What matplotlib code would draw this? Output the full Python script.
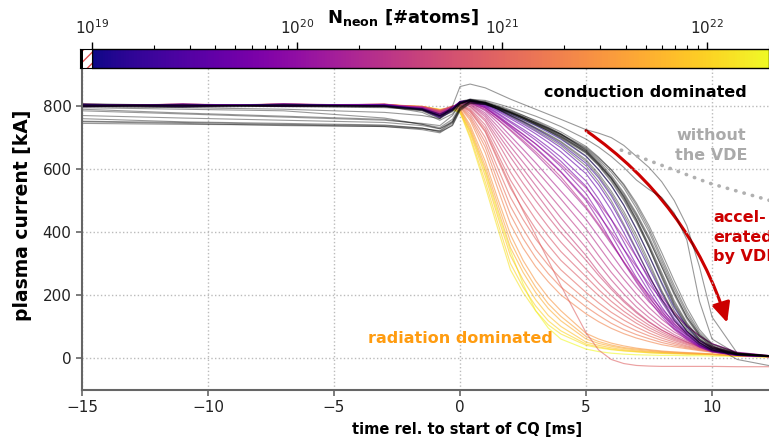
import numpy as np
import matplotlib as mpl
import matplotlib.pyplot as plt
from matplotlib.colors import LogNorm
from matplotlib.patches import FancyArrowPatch, Rectangle

# common time base of the traces [ms]
t_ms = [-15, -11, -7, -3, -1.5, -0.8, -0.3, 0, 0.4, 1, 1.5, 2, 2.5, 3, 3.5, 4,
        5, 5.5, 6, 6.5, 7, 7.5, 8, 8.5, 9, 9.5, 10, 11, 12.3]

# shots without neon -> black
ip_no_neon = [
    [800, 805, 800, 798, 790, 770, 790, 815, 822, 812, 796, 778, 761, 742, 722, 700, 650, 610, 560, 500, 430, 350, 255, 165, 100, 55, 30, 12, 6],
    [805, 800, 803, 800, 785, 760, 785, 810, 818, 808, 791, 772, 753, 732, 711, 688, 630, 585, 530, 465, 390, 305, 215, 140, 85, 48, 25, 10, 5],
    [790, 778, 768, 758, 742, 732, 758, 800, 815, 810, 797, 782, 766, 748, 730, 710, 662, 625, 580, 525, 460, 385, 300, 210, 130, 70, 35, 14, 6],
    [760, 750, 745, 740, 730, 720, 745, 790, 812, 805, 791, 775, 758, 740, 722, 702, 652, 612, 565, 505, 435, 350, 260, 170, 105, 58, 30, 11, 5],
    [750, 745, 738, 735, 725, 715, 740, 788, 810, 806, 793, 778, 762, 745, 728, 710, 665, 630, 590, 540, 475, 400, 310, 220, 140, 75, 38, 15, 7],
    [745, 742, 740, 735, 728, 722, 750, 795, 815, 810, 796, 780, 762, 742, 721, 698, 642, 598, 548, 485, 410, 325, 235, 150, 92, 50, 27, 11, 5],
    [800, 798, 802, 800, 780, 755, 775, 805, 820, 815, 802, 788, 771, 752, 733, 712, 660, 618, 572, 512, 440, 355, 265, 175, 108, 60, 32, 12, 6],
    [808, 802, 800, 802, 792, 775, 792, 812, 820, 810, 790, 768, 747, 724, 700, 675, 610, 560, 500, 425, 345, 262, 185, 120, 75, 42, 22, 9, 4],
    [795, 790, 785, 762, 742, 728, 748, 792, 815, 812, 799, 785, 770, 755, 737, 718, 672, 638, 598, 548, 485, 410, 320, 230, 148, 82, 42, 15, 7],
    [800, 795, 790, 780, 770, 760, 800, 862, 870, 858, 840, 822, 806, 790, 774, 758, 725, 714, 700, 675, 640, 605, 560, 500, 420, 290, 130, 15, 5],
    [785, 775, 765, 755, 745, 738, 770, 808, 822, 818, 807, 795, 782, 768, 752, 735, 695, 670, 640, 605, 565, 535, 510, 460, 375, 180, 60, 12, 6],
    [800, 802, 798, 795, 788, 770, 788, 808, 818, 812, 797, 780, 763, 745, 726, 705, 655, 615, 570, 515, 450, 375, 290, 205, 130, 75, 40, -5, -25],
    [752, 748, 742, 738, 730, 718, 738, 785, 808, 805, 793, 780, 765, 748, 731, 712, 668, 635, 598, 552, 492, 420, 335, 245, 160, 90, 45, 16, 7],
    [798, 796, 800, 797, 786, 765, 782, 806, 816, 808, 790, 770, 751, 730, 708, 685, 625, 578, 522, 455, 378, 295, 210, 138, 86, 48, 25, 10, 5],
    [770, 762, 755, 748, 738, 728, 752, 795, 814, 809, 795, 779, 762, 744, 725, 704, 655, 616, 570, 510, 440, 360, 272, 182, 112, 62, 33, 12, 6],
    [802, 800, 805, 801, 789, 768, 786, 809, 819, 812, 798, 783, 766, 748, 729, 708, 658, 620, 575, 520, 455, 378, 290, 200, 124, 68, 35, 13, 6],
]

# neon seeded shots
n_neon = [1.3e19, 2e19, 3e19, 4e19, 5e19, 6e19, 8e19, 1e20,
          1.3e20, 1.6e20, 2e20, 2.5e20, 3e20, 3.5e20, 4e20, 1.8e20, 2.8e20,
          5e20, 6e20, 7e20, 8e20, 1e21, 1.3e21, 1.6e21, 2e21, 9e20,
          3e21, 4e21, 5e21, 7e21, 1e22, 1.4e22, 2e22]
ip_neon = [
    [805, 800, 806, 800, 790, 768, 790, 812, 820, 810, 793, 775, 757, 738, 717, 695, 640, 598, 548, 485, 408, 325, 240, 160, 98, 55, 30, 12, 6],
    [800, 806, 800, 803, 788, 762, 786, 810, 818, 807, 789, 770, 750, 728, 705, 680, 618, 572, 515, 445, 365, 285, 205, 135, 85, 48, 26, 10, 5],
    [803, 798, 804, 800, 792, 770, 792, 813, 819, 806, 786, 765, 743, 720, 695, 668, 600, 550, 490, 418, 340, 262, 188, 125, 80, 45, 24, 10, 5],
    [798, 803, 800, 805, 790, 765, 788, 811, 817, 804, 783, 760, 737, 712, 685, 655, 585, 532, 470, 398, 322, 248, 178, 118, 75, 42, 23, 9, 5],
    [806, 800, 803, 799, 791, 772, 793, 814, 818, 802, 778, 752, 727, 700, 670, 638, 562, 505, 440, 368, 295, 225, 162, 108, 70, 40, 22, 9, 4],
    [800, 805, 801, 804, 789, 766, 789, 812, 816, 800, 775, 748, 721, 692, 660, 625, 545, 485, 418, 345, 275, 210, 150, 100, 65, 38, 21, 8, 4],
    [804, 799, 806, 801, 793, 774, 794, 815, 818, 798, 770, 740, 711, 680, 645, 608, 522, 460, 392, 322, 255, 195, 140, 95, 62, 36, 20, 8, 4],
    [801, 806, 800, 802, 790, 770, 791, 813, 815, 795, 764, 732, 699, 665, 628, 590, 500, 438, 370, 302, 240, 183, 132, 90, 58, 34, 19, 8, 4],
    [805, 800, 806, 802, 795, 775, 795, 812, 814, 795, 766, 735, 702, 668, 631, 592, 505, 455, 400, 345, 290, 235, 185, 140, 100, 70, 45, 18, 7],
    [800, 806, 802, 805, 793, 772, 793, 810, 812, 790, 757, 722, 686, 648, 607, 565, 475, 420, 362, 305, 250, 200, 155, 115, 82, 56, 36, 14, 6],
    [806, 801, 804, 800, 795, 778, 796, 812, 811, 785, 747, 705, 663, 620, 575, 530, 440, 385, 330, 275, 225, 178, 138, 102, 73, 50, 33, 13, 6],
    [802, 805, 800, 804, 792, 774, 794, 810, 808, 778, 735, 690, 645, 598, 552, 505, 410, 355, 300, 250, 203, 160, 123, 92, 66, 46, 30, 12, 5],
    [804, 800, 807, 802, 796, 780, 797, 811, 806, 772, 723, 672, 622, 572, 523, 475, 380, 325, 272, 225, 180, 142, 110, 82, 60, 42, 28, 11, 5],
    [800, 804, 801, 806, 794, 776, 795, 809, 804, 766, 711, 655, 601, 548, 496, 445, 350, 298, 248, 203, 162, 128, 98, 74, 55, 39, 26, 10, 5],
    [803, 800, 805, 800, 796, 782, 798, 810, 800, 758, 698, 638, 581, 525, 471, 418, 325, 272, 225, 183, 147, 115, 89, 68, 50, 36, 24, 10, 4],
    [801, 805, 803, 806, 794, 773, 793, 811, 813, 794, 767, 738, 710, 680, 648, 615, 540, 492, 440, 382, 320, 255, 195, 145, 103, 70, 45, 17, 7],
    [805, 801, 806, 803, 797, 779, 796, 812, 810, 788, 758, 725, 691, 655, 616, 575, 480, 425, 368, 305, 245, 190, 145, 108, 78, 54, 35, 13, 6],
    [804, 800, 806, 802, 797, 783, 798, 808, 798, 752, 684, 615, 555, 500, 448, 398, 310, 262, 218, 178, 143, 113, 88, 68, 51, 37, 26, 11, 5],
    [800, 805, 801, 804, 795, 780, 796, 806, 792, 740, 665, 590, 528, 470, 417, 368, 282, 238, 198, 162, 131, 104, 82, 63, 48, 35, 25, 10, 5],
    [806, 801, 805, 800, 798, 785, 799, 805, 788, 730, 647, 565, 500, 440, 387, 338, 258, 217, 180, 148, 120, 96, 76, 59, 45, 33, 23, 10, 4],
    [802, 806, 800, 805, 796, 782, 797, 803, 782, 718, 628, 540, 472, 410, 358, 310, 235, 198, 164, 136, 110, 88, 70, 55, 42, 31, 22, 9, 4],
    [805, 801, 806, 801, 799, 786, 800, 802, 775, 700, 603, 510, 440, 378, 326, 280, 208, 175, 145, 120, 98, 79, 63, 50, 38, 29, 21, 9, 4],
    [800, 806, 802, 805, 797, 784, 798, 800, 768, 685, 582, 482, 410, 345, 295, 252, 185, 155, 128, 105, 86, 70, 56, 45, 35, 27, 20, 9, 4],
    [804, 800, 805, 801, 799, 787, 800, 798, 762, 670, 560, 455, 380, 318, 268, 225, 162, 135, 110, 90, 74, 61, 49, 40, 32, 25, 19, 8, 4],
    [801, 805, 800, 806, 797, 785, 798, 796, 755, 652, 537, 425, 350, 290, 242, 200, 140, 115, 94, 77, 63, 52, 42, 35, 29, 23, 18, 8, 4],
    [803, 800, 805, 802, 798, 784, 799, 804, 785, 722, 635, 548, 467, 390, 310, 230, 80, 25, -5, -18, -24, -26, -27, -27, -27, -27, -27, -28, -28],
    [800, 805, 801, 806, 798, 786, 795, 792, 740, 625, 505, 392, 310, 245, 192, 150, 78, 60, 47, 38, 31, 26, 22, 19, 17, 15, 13, 8, 4],
    [805, 800, 806, 801, 799, 788, 796, 790, 732, 610, 488, 370, 290, 225, 172, 132, 68, 52, 41, 33, 28, 24, 20, 18, 16, 14, 12, 7, 4],
    [801, 806, 800, 804, 797, 785, 793, 788, 725, 598, 472, 350, 272, 208, 157, 118, 60, 46, 37, 30, 25, 21, 18, 16, 14, 13, 11, 7, 4],
    [804, 800, 805, 802, 798, 789, 794, 785, 715, 578, 448, 325, 248, 185, 135, 100, 50, 40, 32, 26, 22, 19, 17, 15, 13, 12, 11, 6, 3],
    [800, 804, 801, 805, 796, 786, 790, 782, 705, 560, 428, 300, 225, 165, 118, 86, 44, 35, 28, 23, 20, 17, 15, 14, 13, 12, 10, 6, 3],
    [803, 801, 806, 800, 799, 790, 792, 780, 698, 545, 410, 280, 208, 150, 105, 76, 40, 32, 26, 22, 19, 16, 14, 13, 12, 11, 10, 6, 3],
    [805, 800, 804, 802, 798, 788, 788, 778, 720, 590, 460, 340, 235, 150, 95, 60, 28, 20, 15, 12, 10, 9, 8, 8, 7, 7, 6, 5, 3],
]

# expected decay without the VDE (dotted guide)
vde_free_t = [6.4, 8.2, 9.9, 12.3]
vde_free_i = [660, 606, 555, 500]

fig = plt.figure(figsize=(7.69, 4.44), dpi=100)
ax = fig.add_axes([82/769, 1-390/444, 687/769, 322/444])

cmap = plt.get_cmap('plasma')
norm = LogNorm(1e19, 2e22)

for n, ip in sorted(zip(n_neon, ip_neon), key=lambda p: -p[0]):
    ax.plot(t_ms, ip, color=cmap(norm(n)), lw=0.85, alpha=0.6)
for ip in ip_no_neon:
    ax.plot(t_ms, ip, color='k', lw=0.8, alpha=0.4)

ax.plot(vde_free_t, vde_free_i, color='#b0b0b0', lw=2.6,
        ls=(0, (0.1, 2.3)), dash_capstyle='round')

arrow = FancyArrowPatch((5.0, 722), (10.6, 112), connectionstyle='arc3,rad=-0.17',
                        arrowstyle='-|>,head_length=0.6,head_width=0.28',
                        mutation_scale=20, color='#cc0000', lw=2.2,
                        shrinkA=0, shrinkB=0)
ax.add_patch(arrow)

ax.text(7.34, 844, 'conduction dominated', ha='center', va='center',
        fontsize=11.5, fontweight='bold', color='k')
ax.text(0.0, 63, 'radiation dominated', ha='center', va='center',
        fontsize=11.5, fontweight='bold', color='#ff9c10')
ax.text(9.96, 675, 'without\nthe VDE', ha='center', va='center',
        fontsize=11.5, fontweight='bold', color='#aaaaaa', linespacing=1.35)
ax.text(10.04, 384, 'accel-\nerated\nby VDE', ha='left', va='center',
        fontsize=11.5, fontweight='bold', color='#cc0000', linespacing=1.35)

ax.set_xlim(-15, 12.26)
ax.set_ylim(-102, 921)
ax.set_xticks([-15, -10, -5, 0, 5, 10])
ax.set_yticks([0, 200, 400, 600, 800])
ax.grid(True, ls=':', color='#bbbbbb', lw=1)
for s in ['top', 'right']:
    ax.spines[s].set_visible(False)
for s in ['left', 'bottom']:
    ax.spines[s].set_color('#666666')
    ax.spines[s].set_linewidth(1.5)
ax.tick_params(labelsize=11, color='#666666', length=4, width=1.2, labelcolor='#222222')

ax.set_ylabel('plasma current [kA]', fontsize=13.5, fontweight='bold')
ax.yaxis.set_label_coords(-0.073, 0.543)
ax.set_xlabel('time rel. to start of CQ [ms]', fontsize=10.5, fontweight='bold')
ax.xaxis.set_label_coords(0.56, -0.099)

# colour bar on top
cax = fig.add_axes([92/769, 1-68/444, 677/769, 19/444])
cb = fig.colorbar(mpl.cm.ScalarMappable(norm=norm, cmap=cmap), cax=cax,
                  orientation='horizontal')
cax.xaxis.set_ticks_position('top')
cax.tick_params(which='major', labelsize=11, length=5, width=1, labelcolor='#222222')
cax.tick_params(which='minor', length=3, width=0.8)
cb.outline.set_linewidth(1)

# no-neon / unknown box at the left of the colour bar
bx = fig.add_axes([80/769, 1-68/444, 12/769, 19/444])
bx.add_patch(Rectangle((0, 0), 0.25, 1, color='k'))
bx.add_patch(Rectangle((0.25, 0), 0.75, 1, facecolor='white', edgecolor='#e05050',
                       hatch='///', lw=0))
bx.set_xlim(0, 1)
bx.set_ylim(0, 1)
bx.set_xticks([])
bx.set_yticks([])

fig.text(403/769, 1-18/444, r'N$_{\mathbf{neon}}$ [#atoms]', ha='center', va='center',
         fontsize=13, fontweight='bold')

fig.savefig('out.png', dpi=100)
